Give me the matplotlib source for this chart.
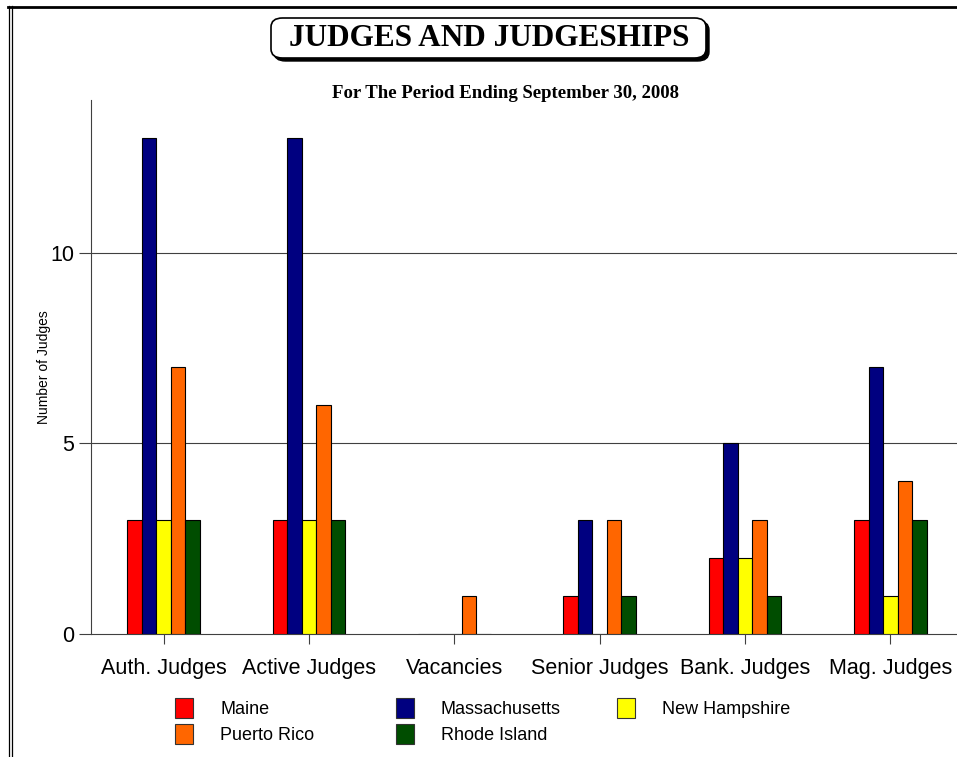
"""Judges and judgeships bar chart, First Circuit, FY2008."""

import matplotlib
matplotlib.use("Agg")
import matplotlib.pyplot as plt
from matplotlib.patches import FancyBboxPatch, Rectangle
from matplotlib.lines import Line2D
import numpy as np

categories = ["Auth. Judges", "Active Judges", "Vacancies", "Senior Judges",
              "Bank. Judges", "Mag. Judges"]
states = ["Maine", "Massachusetts", "New Hampshire", "Puerto Rico", "Rhode Island"]
maine = [3, 3, 0, 1, 2, 3]
massachusetts = [13, 13, 0, 3, 5, 7]
new_hampshire = [3, 3, 0, 0, 2, 1]
puerto_rico = [7, 6, 1, 3, 3, 4]
rhode_island = [3, 3, 0, 1, 1, 3]
series = [maine, massachusetts, new_hampshire, puerto_rico, rhode_island]

COLORS = ["#ff0000", "#000080", "#ffff00", "#ff6600", "#004d00"]
SANS = ["Liberation Sans", "DejaVu Sans"]
SERIF = ["Liberation Serif", "DejaVu Serif"]

W, H = 957, 757
fig = plt.figure(figsize=(W / 100, H / 100), dpi=100)


def fx(px):
    return px / W


def fy(py):
    return 1 - py / H


# axes placed in pixel terms (right edge runs slightly off the page)
ax = fig.add_axes([fx(91), fy(634), fx(963 - 91), (634 - 100) / H])
x = np.arange(len(categories))
bw = 0.1
for i, (vals, c) in enumerate(zip(series, COLORS)):
    ax.bar(x + (i - 2) * bw, vals, width=bw, color=c, edgecolor="black",
           linewidth=0.8, zorder=3)

ax.set_xlim(-0.5, 5.5)
ax.set_ylim(0, 14)
ax.set_yticks([0, 5, 10])
ax.set_xticks(x)
ax.set_xticklabels(categories, fontsize=15.5, family=SANS)
for lab in ax.get_yticklabels():
    lab.set_fontsize(15.5)
    lab.set_family(SANS)
ax.tick_params(axis="y", length=9, width=0.8, color="#404040", pad=3)
ax.tick_params(axis="x", length=7, width=0.8, color="#404040", pad=10)
for y in (5, 10):
    ax.axhline(y, color="#404040", lw=0.8, zorder=1)
for s in ("top", "right"):
    ax.spines[s].set_visible(False)
for s in ("left", "bottom"):
    ax.spines[s].set_color("#404040")
    ax.spines[s].set_linewidth(0.8)
ax.set_ylabel("Number of Judges", fontsize=10,
              family=["Liberation Sans Narrow", "Liberation Sans"])
ax.yaxis.set_label_coords(-0.046, 0.5)

# title box with drop shadow
bx0, by0, bx1, by1 = 271, 18, 706, 58
shadow = FancyBboxPatch((fx(bx0 + 3), fy(by1 + 3)), fx(bx1 - bx0), (by1 - by0) / H,
                        boxstyle="round,pad=0,rounding_size=0.012",
                        transform=fig.transFigure, facecolor="black",
                        edgecolor="black", lw=1)
box = FancyBboxPatch((fx(bx0), fy(by1)), fx(bx1 - bx0), (by1 - by0) / H,
                     boxstyle="round,pad=0,rounding_size=0.012",
                     transform=fig.transFigure, facecolor="white",
                     edgecolor="black", lw=1.2)
fig.patches.extend([shadow, box])
fig.text(fx(489), fy(39), "JUDGES AND JUDGESHIPS", ha="center", va="center",
         fontsize=22.5, fontweight="bold", family=SERIF)
fig.text(fx(506), fy(93), "For The Period Ending September 30, 2008",
         ha="center", va="center", fontsize=13.5, fontweight="bold", family=SERIF)

# page border
fig.add_artist(Line2D([fx(8), 1], [fy(6.5), fy(6.5)], transform=fig.transFigure,
                      color="black", lw=2))
for xb in (8.5, 11.5):
    fig.add_artist(Line2D([fx(xb), fx(xb)], [fy(6), 0], transform=fig.transFigure,
                          color="black", lw=0.9))

# legend grid
for i, (name, c) in enumerate(zip(states, COLORS)):
    col, row = i % 3, i // 3
    px = 175 + col * 221
    py = 708 + row * 26
    fig.patches.append(Rectangle((fx(px), fy(py + 10)), fx(18), 20 / H,
                                 transform=fig.transFigure, facecolor=c,
                                 edgecolor="#333333", lw=0.8))
    fig.text(fx(px + 45), fy(py + 2), name, ha="left", va="center",
             fontsize=13, family=SANS)

fig.savefig("out.png", dpi=100)
